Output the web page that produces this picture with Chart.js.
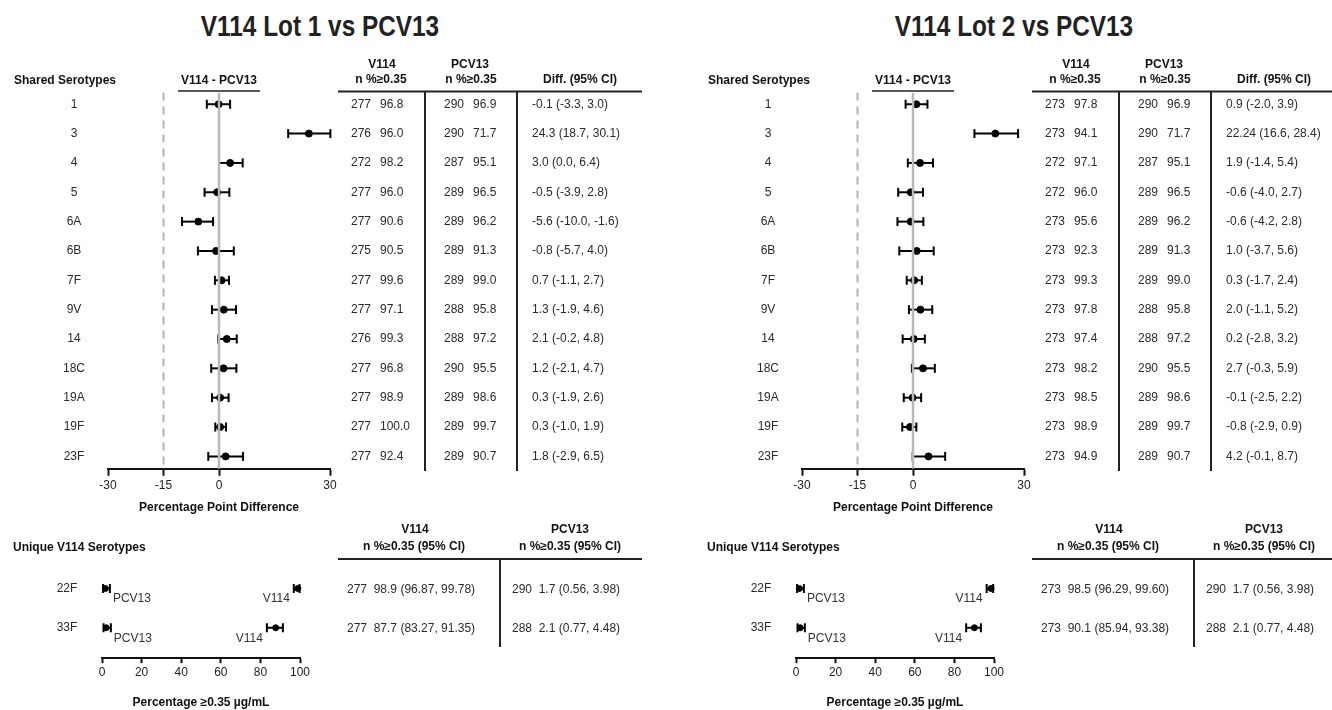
<!DOCTYPE html>
<html lang="en">
<head>
<meta charset="UTF-8">
<title>V114 vs PCV13</title>
<script src="https://cdn.jsdelivr.net/npm/chart.js"></script>
<style>
    body {
        margin: 0;
        width: 1332px;
        height: 710px;
        overflow: hidden;
        background: #fff;
        position: relative;
        font-family: "Liberation Sans", Arial, sans-serif;
    }
    canvas { position: absolute; }
    .title {
        position: absolute;
        top: 10px;
        width: 400px;
        text-align: center;
        font-family: "Liberation Sans Narrow", "Arial Narrow", "Liberation Sans", sans-serif;
        font-weight: bold;
        font-size: 29px;
        color: #222;
        transform: scaleX(0.84);
        transform-origin: center;
    }
</style>
</head>
<body>
<div class="title" style="left:120px">V114 Lot 1 vs PCV13</div>
<div class="title" style="left:814px">V114 Lot 2 vs PCV13</div>
<canvas id="forest1" width="694" height="520" style="left:0;top:0"></canvas>
<canvas id="unique1" width="694" height="190" style="left:0;top:520px"></canvas>
<canvas id="forest2" width="638" height="520" style="left:694px;top:0"></canvas>
<canvas id="unique2" width="638" height="190" style="left:694px;top:520px"></canvas>

<script>
    // shared serotypes
    const serotypes = ['1', '3', '4', '5', '6A', '6B', '7F', '9V', '14', '18C', '19A', '19F', '23F'];

    const pcvN = [290, 290, 287, 289, 289, 289, 289, 288, 288, 290, 289, 289, 289];
    const pcvPct = [96.9, 71.7, 95.1, 96.5, 96.2, 91.3, 99.0, 95.8, 97.2, 95.5, 98.6, 99.7, 90.7];

    const lot1N = [277, 276, 272, 277, 277, 275, 277, 277, 276, 277, 277, 277, 277];
    const lot1Pct = [96.8, 96.0, 98.2, 96.0, 90.6, 90.5, 99.6, 97.1, 99.3, 96.8, 98.9, 100.0, 92.4];
    const lot1Diff = [-0.1, 24.3, 3.0, -0.5, -5.6, -0.8, 0.7, 1.3, 2.1, 1.2, 0.3, 0.3, 1.8];
    const lot1Lo = [-3.3, 18.7, 0.0, -3.9, -10.0, -5.7, -1.1, -1.9, -0.2, -2.1, -1.9, -1.0, -2.9];
    const lot1Hi = [3.0, 30.1, 6.4, 2.8, -1.6, 4.0, 2.7, 4.6, 4.8, 4.7, 2.6, 1.9, 6.5];

    const lot2N = [273, 273, 272, 272, 273, 273, 273, 273, 273, 273, 273, 273, 273];
    const lot2Pct = [97.8, 94.1, 97.1, 96.0, 95.6, 92.3, 99.3, 97.8, 97.4, 98.2, 98.5, 98.9, 94.9];
    const lot2Diff = [0.9, 22.24, 1.9, -0.6, -0.6, 1.0, 0.3, 2.0, 0.2, 2.7, -0.1, -0.8, 4.2];
    const lot2Lo = [-2.0, 16.6, -1.4, -4.0, -4.2, -3.7, -1.7, -1.1, -2.8, -0.3, -2.5, -2.9, -0.1];
    const lot2Hi = [3.9, 28.4, 5.4, 2.7, 2.8, 5.6, 2.4, 5.2, 3.2, 5.9, 2.2, 0.9, 8.7];

    // unique V114 serotypes
    const uniqueTypes = ['22F', '33F'];
    const uPcvN = [290, 288];
    const uPcvPct = [1.7, 2.1];
    const uPcvLo = [0.56, 0.77];
    const uPcvHi = [3.98, 4.48];

    const u1N = [277, 277];
    const u1Pct = [98.9, 87.7];
    const u1Lo = [96.87, 83.27];
    const u1Hi = [99.78, 91.35];

    const u2N = [273, 273];
    const u2Pct = [98.5, 90.1];
    const u2Lo = [96.29, 85.94];
    const u2Hi = [99.60, 93.38];

    // axis ticks
    const diffTicks = [-30, -15, 0, 30];
    const pctTicks = [0, 20, 40, 60, 80, 100];

    const FONT = '"Liberation Sans", Arial, sans-serif';
    Chart.defaults.font.family = FONT;
    Chart.defaults.color = '#222';

    // one decimal unless the value was reported with more
    const fmt = v => Math.abs(v * 10 - Math.round(v * 10)) < 1e-9 ? v.toFixed(1) : String(v);

    function text(ctx, str, x, y, align, bold, color) {
        ctx.font = (bold ? 'bold ' : '') + '12px ' + FONT;
        ctx.fillStyle = color || (bold ? '#111' : '#2a2a2a');
        ctx.textAlign = align;
        ctx.textBaseline = 'middle';
        ctx.fillText(str, x, y);
    }

    function hline(ctx, x1, x2, y, w) {
        ctx.beginPath();
        ctx.lineWidth = w;
        ctx.strokeStyle = '#222';
        ctx.moveTo(x1, y);
        ctx.lineTo(x2, y);
        ctx.stroke();
    }

    function vline(ctx, x, y1, y2, w) {
        ctx.beginPath();
        ctx.lineWidth = w;
        ctx.strokeStyle = '#222';
        ctx.moveTo(x, y1);
        ctx.lineTo(x, y2);
        ctx.stroke();
    }

    function ciDataset(lo, hi, row, capR) {
        return {
            data: [{ x: lo, y: row }, { x: hi, y: row }],
            showLine: true,
            borderColor: '#000',
            borderWidth: 2,
            pointStyle: 'line',
            pointRotation: 90,
            pointRadius: capR,
            pointBorderWidth: 2,
            pointBorderColor: '#000',
            clip: false
        };
    }

    function makeForest(id, width, vN, vPct, diff, lo, hi) {
        const yMin = -0.4, yMax = 12.42;
        const datasets = [
            {
                data: [{ x: -15, y: yMin }, { x: -15, y: yMax }],
                showLine: true, borderColor: '#b3b3b3', borderWidth: 2,
                borderDash: [8, 6], pointRadius: 0
            },
            {
                data: [{ x: 0, y: yMin }, { x: 0, y: yMax }],
                showLine: true, borderColor: '#b8b8b8', borderWidth: 2.5, pointRadius: 0
            }
        ];
        serotypes.forEach((s, i) => datasets.push(ciDataset(lo[i], hi[i], i, 4.5)));
        datasets.push({
            data: diff.map((d, i) => ({ x: d, y: i })),
            pointRadius: 3.5,
            backgroundColor: '#000',
            borderColor: '#000',
            clip: false
        });

        const tablePlugin = {
            id: 'forestTable',
            afterDraw(chart) {
                const ctx = chart.ctx;
                const ys = chart.scales.y, xs = chart.scales.x;
                ctx.save();
                text(ctx, 'Shared Serotypes', 14, 81, 'left', true);
                const x0 = xs.getPixelForValue(0);
                text(ctx, 'V114 - PCV13', x0, 81, 'center', true);
                hline(ctx, x0 - 41, x0 + 41, 91, 1.5);

                text(ctx, 'V114', 382, 65, 'center', true);
                text(ctx, 'n %\u22650.35', 381, 80, 'center', true);
                text(ctx, 'PCV13', 470, 65, 'center', true);
                text(ctx, 'n %\u22650.35', 471, 80, 'center', true);
                text(ctx, 'Diff. (95% CI)', 580, 80, 'center', true);
                hline(ctx, 338, 642, 91.5, 2);
                vline(ctx, 425, 91.5, 471, 2);
                vline(ctx, 517, 91.5, 471, 2);

                serotypes.forEach((s, i) => {
                    const y = ys.getPixelForValue(i);
                    text(ctx, s, 74, y, 'center', false);
                    text(ctx, String(vN[i]), 351, y, 'left', false);
                    text(ctx, vPct[i].toFixed(1), 380, y, 'left', false);
                    text(ctx, String(pcvN[i]), 444, y, 'left', false);
                    text(ctx, pcvPct[i].toFixed(1), 473, y, 'left', false);
                    text(ctx, fmt(diff[i]) + ' (' + fmt(lo[i]) + ', ' + fmt(hi[i]) + ')', 532, y, 'left', false);
                });
                ctx.restore();
            }
        };

        new Chart(document.getElementById(id), {
            type: 'scatter',
            data: { datasets },
            options: {
                responsive: false,
                animation: false,
                events: [],
                layout: { padding: { left: 108, right: width - 330, top: 92.5, bottom: 1.5 } },
                plugins: { legend: { display: false }, tooltip: { enabled: false } },
                scales: {
                    x: {
                        type: 'linear', min: -30, max: 30,
                        afterBuildTicks: axis => { axis.ticks = diffTicks.map(v => ({ value: v })); },
                        grid: { drawOnChartArea: false, drawTicks: true, tickLength: 7, tickColor: '#111', tickWidth: 2 },
                        border: { display: true, color: '#111', width: 2 },
                        ticks: { color: '#222', font: { size: 12 }, padding: 3, maxRotation: 0, autoSkip: false },
                        title: {
                            display: true, text: 'Percentage Point Difference', color: '#111',
                            font: { size: 12, weight: 'bold' }, padding: { top: 4, bottom: 4 }
                        }
                    },
                    y: { type: 'linear', reverse: true, min: yMin, max: yMax, display: false }
                }
            },
            plugins: [tablePlugin]
        });
    }

    function makeUnique(id, width, vN, vPct, vLo, vHi) {
        const datasets = [];
        uniqueTypes.forEach((s, i) => {
            datasets.push(ciDataset(uPcvLo[i], uPcvHi[i], i, 4.5));
            datasets.push(ciDataset(vLo[i], vHi[i], i, 4.5));
        });
        datasets.push({
            data: uniqueTypes.flatMap((s, i) => [{ x: uPcvPct[i], y: i }, { x: vPct[i], y: i }]),
            pointRadius: 3,
            backgroundColor: '#000',
            borderColor: '#000',
            clip: false
        });

        const tablePlugin = {
            id: 'uniqueTable',
            afterDraw(chart) {
                const ctx = chart.ctx;
                const ys = chart.scales.y, xs = chart.scales.x;
                ctx.save();
                text(ctx, 'Unique V114 Serotypes', 13, 28, 'left', true);
                text(ctx, 'V114', 415, 10, 'center', true);
                text(ctx, 'n %\u22650.35 (95% CI)', 414, 27, 'center', true);
                text(ctx, 'PCV13', 570, 10, 'center', true);
                text(ctx, 'n %\u22650.35 (95% CI)', 570, 27, 'center', true);
                hline(ctx, 338, 642, 39, 2);
                vline(ctx, 500, 39, 127, 2);

                uniqueTypes.forEach((s, i) => {
                    const y = ys.getPixelForValue(i);
                    text(ctx, s, 67, y, 'center', false);
                    text(ctx, 'PCV13', xs.getPixelForValue(uPcvHi[i]) + 3, y + 10.5, 'left', false, '#333');
                    text(ctx, 'V114', xs.getPixelForValue(vLo[i]) - 4, y + 10.5, 'right', false, '#333');
                    text(ctx, vN[i] + '  ' + vPct[i].toFixed(1) + ' (' + vLo[i].toFixed(2) + ', ' + vHi[i].toFixed(2) + ')', 347, y + 1, 'left', false);
                    text(ctx, uPcvN[i] + '  ' + uPcvPct[i].toFixed(1) + ' (' + uPcvLo[i].toFixed(2) + ', ' + uPcvHi[i].toFixed(2) + ')', 512, y + 1, 'left', false);
                });
                ctx.restore();
            }
        };

        new Chart(document.getElementById(id), {
            type: 'scatter',
            data: { datasets },
            options: {
                responsive: false,
                animation: false,
                events: [],
                layout: { padding: { left: 102, right: width - 300, top: 41, bottom: 0 } },
                plugins: { legend: { display: false }, tooltip: { enabled: false } },
                scales: {
                    x: {
                        type: 'linear', min: 0, max: 100,
                        afterBuildTicks: axis => { axis.ticks = pctTicks.map(v => ({ value: v })); },
                        grid: { drawOnChartArea: false, drawTicks: true, tickLength: 5, tickColor: '#111', tickWidth: 2 },
                        border: { display: true, color: '#111', width: 2 },
                        ticks: { color: '#222', font: { size: 12 }, padding: 2, maxRotation: 0, autoSkip: false },
                        title: {
                            display: true, text: 'Percentage \u22650.35 \u00b5g/mL', color: '#111',
                            font: { size: 12, weight: 'bold' }, padding: { top: 14, bottom: 0 }
                        }
                    },
                    y: { type: 'linear', reverse: true, min: -0.7, max: 1.775, display: false }
                }
            },
            plugins: [tablePlugin]
        });
    }

    makeForest('forest1', 694, lot1N, lot1Pct, lot1Diff, lot1Lo, lot1Hi);
    makeForest('forest2', 638, lot2N, lot2Pct, lot2Diff, lot2Lo, lot2Hi);
    makeUnique('unique1', 694, u1N, u1Pct, u1Lo, u1Hi);
    makeUnique('unique2', 638, u2N, u2Pct, u2Lo, u2Hi);
</script>
</body>
</html>
